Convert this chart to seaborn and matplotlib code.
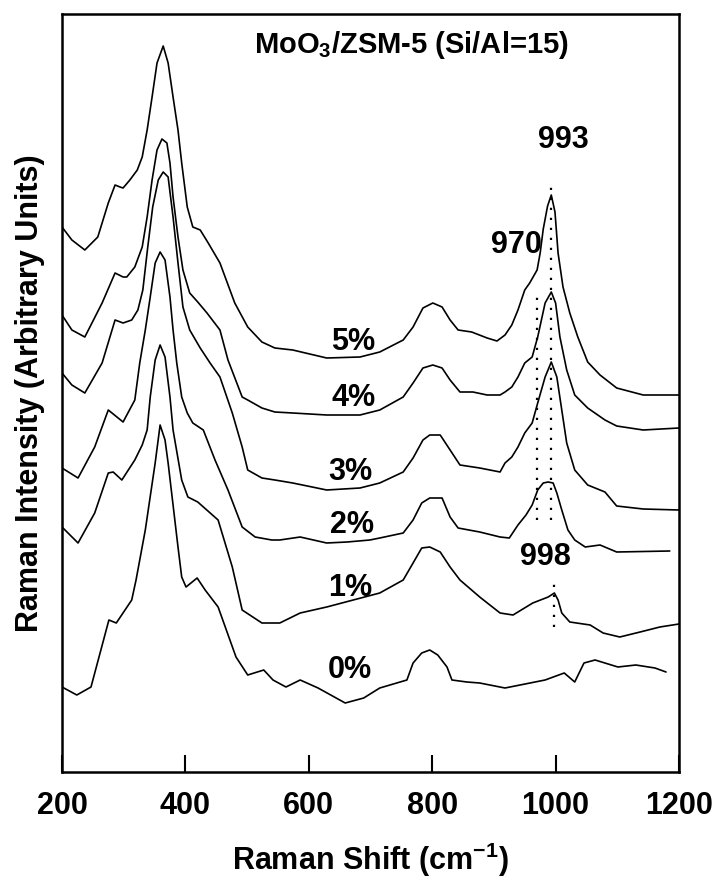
import matplotlib
matplotlib.use("Agg")
import matplotlib.pyplot as plt
import seaborn as sns
import pandas as pd

# Raman shift (cm^-1) and stacked intensities (arbitrary units, offsets included)
shift_5 = [200, 216, 237, 258, 275, 286, 294, 299, 310, 322, 330, 338, 346, 354, 364, 372, 380, 388,
           394, 403, 412, 424, 437, 456, 480, 501, 524, 545, 574, 629, 683, 715, 753, 769, 785, 801,
           816, 829, 842, 864, 889, 905, 918, 929, 939, 950, 958, 970, 975, 980, 987, 993, 999,
           1004, 1012, 1023, 1036, 1052, 1072, 1099, 1142, 1200]
int_5 = [545, 532, 522, 535, 569, 587, 585, 584, 592, 602, 615, 642, 675, 709, 726, 709, 675, 642,
         609, 565, 545, 542, 529, 509, 469, 445, 430, 424, 422, 414, 415, 420, 432, 445, 464, 469,
         465, 452, 442, 440, 434, 431, 437, 447, 462, 482, 489, 502, 519, 543, 566, 577, 560,
         519, 485, 459, 435, 410, 397, 384, 377, 377]

shift_4 = [200, 216, 237, 265, 286, 299, 305, 318, 330, 338, 346, 354, 362, 370, 375, 380, 388, 396,
           407, 420, 435, 456, 469, 492, 501, 524, 545, 574, 629, 683, 715, 753, 769, 785, 801, 816,
           829, 845, 866, 889, 910, 918, 929, 939, 950, 962, 971, 983, 993, 1000, 1007, 1018,
           1031, 1052, 1080, 1099, 1142, 1200]
int_4 = [457, 442, 435, 469, 499, 495, 495, 505, 525, 555, 592, 622, 633, 629, 609, 575, 535, 502,
         479, 470, 459, 442, 412, 375, 372, 364, 360, 359, 357, 357, 362, 375, 389, 404, 407, 404,
         392, 380, 380, 377, 377, 380, 385, 395, 409, 415, 435, 469, 480, 469, 435, 402,
         377, 364, 352, 346, 342, 344]

shift_3 = [200, 216, 237, 265, 286, 299, 313, 323, 331, 339, 347, 356, 364, 372, 380, 388, 396, 407,
           424, 440, 456, 476, 492, 501, 524, 545, 574, 629, 683, 715, 753, 769, 785, 796, 813, 829,
           845, 877, 910, 918, 929, 939, 950, 962, 971, 983, 993, 1002, 1010, 1018, 1031, 1052,
           1080, 1099, 1142, 1200]
int_3 = [399, 387, 379, 409, 452, 449, 452, 462, 482, 525, 565, 592, 600, 595, 555, 509, 465, 442,
         424, 409, 395, 359, 325, 302, 294, 292, 289, 282, 284, 289, 300, 314, 332, 337, 337, 322,
         307, 304, 300, 309, 315, 325, 339, 349, 369, 395, 410, 395, 362, 329, 302, 287,
         280, 266, 263, 262]

shift_2 = [200, 226, 253, 275, 299, 318, 326, 335, 343, 351, 359, 367, 375, 380, 386, 394, 403, 412,
           429, 448, 469, 492, 513, 540, 553, 586, 629, 662, 699, 715, 753, 769, 783, 796, 816, 829,
           842, 877, 910, 925, 939, 952, 962, 971, 980, 988, 996, 1002, 1010, 1020, 1031, 1048,
           1072, 1099, 1185]
int_2 = [304, 294, 325, 362, 350, 372, 409, 442, 475, 509, 520, 512, 475, 442, 409, 375, 359, 349,
         342, 312, 282, 245, 235, 232, 232, 235, 229, 230, 232, 234, 239, 252, 269, 274, 274, 255,
         244, 240, 235, 234, 247, 257, 267, 282, 289, 290, 289, 279, 262, 242, 232, 225,
         227, 220, 221]

shift_1 = [200, 226, 253, 275, 283, 297, 318, 330, 338, 343, 351, 359, 367, 375, 380, 394, 404, 420,
           453, 476, 492, 524, 553, 586, 629, 672, 715, 753, 769, 783, 796, 813, 829, 845, 877, 910,
           931, 963, 988, 998, 1004, 1010, 1023, 1056, 1077, 1104, 1137, 1169, 1200]
int_1 = [245, 229, 259, 299, 300, 292, 312, 327, 342, 375, 412, 427, 415, 375, 342, 292, 275, 270,
         252, 205, 162, 149, 149, 159, 165, 172, 179, 192, 209, 224, 225, 220, 205, 192, 175, 159,
         157, 169, 175, 179, 172, 159, 150, 147, 139, 135, 140, 145, 148]

shift_0 = [200, 224, 247, 276, 288, 313, 320, 335, 351, 359, 367, 372, 388, 394, 401, 419, 432, 453,
           482, 501, 527, 542, 563, 586, 615, 659, 689, 715, 759, 769, 783, 796, 809, 824, 832, 856,
           877, 918, 983, 1014, 1031, 1046, 1064, 1101, 1130, 1161, 1179]
int_0 = [85, 77, 85, 152, 149, 172, 192, 242, 309, 347, 332, 309, 225, 195, 185, 194, 182, 165,
         115, 97, 102, 92, 85, 92, 84, 69, 74, 84, 92, 109, 119, 122, 117, 105, 92, 90,
         89, 84, 92, 99, 90, 109, 112, 105, 107, 104, 100]

loadings = ["5%", "4%", "3%", "2%", "1%", "0%"]
shifts = [shift_5, shift_4, shift_3, shift_2, shift_1, shift_0]
intensities = [int_5, int_4, int_3, int_2, int_1, int_0]

# label anchors (shift, intensity) for each loading
label_x = [672, 672, 667, 670, 667, 667]
label_y = [430, 374, 300, 247, 184, 102]

# band markers: position, lower and upper intensity of the dotted guide
band_pos = [993, 970, 998]
band_lo = [252, 252, 145]
band_hi = [590, 482, 189]
band_text = ["993", "970", "998"]
band_text_xy = [(1012, 632), (936, 527), (983, 215)]

frames = []
for name, xs, ys in zip(loadings, shifts, intensities):
    frames.append(pd.DataFrame({"shift": xs, "intensity": ys, "loading": name}))
df = pd.concat(frames, ignore_index=True)

sns.set_style("white")
plt.rcParams["font.family"] = ["Liberation Sans", "DejaVu Sans"]
plt.rcParams["font.weight"] = "bold"
plt.rcParams["text.color"] = "black"
plt.rcParams["axes.labelcolor"] = "black"
plt.rcParams["xtick.color"] = "black"
plt.rcParams["mathtext.fontset"] = "custom"
plt.rcParams["mathtext.rm"] = "Liberation Sans:bold"
plt.rcParams["mathtext.default"] = "rm"

fig = plt.figure(figsize=(7.13, 8.8), dpi=100)
ax = fig.add_axes([62 / 713, 1 - 772 / 880, 617 / 713, 758 / 880])

sns.lineplot(data=df, x="shift", y="intensity", units="loading", estimator=None,
             sort=False, color="black", linewidth=1.2, ax=ax, legend=False)

for name, lx, ly in zip(loadings, label_x, label_y):
    ax.text(lx, ly, name, ha="center", va="center", fontsize=22, fontweight="bold")

for pos, lo, hi in zip(band_pos, band_lo, band_hi):
    ax.plot([pos, pos], [lo, hi], color="black", linewidth=1.6, linestyle=(0, (1, 3.5)))
for txt, (tx, ty) in zip(band_text, band_text_xy):
    ax.text(tx, ty, txt, ha="center", va="center", fontsize=22, fontweight="bold")

ax.text(766, 727, r"MoO$_3$/ZSM-5 (Si/Al=15)", ha="center", va="center",
        fontsize=21, fontweight="bold")

ax.set_xlim(200, 1200)
ax.set_ylim(0, 758)
ax.set_xticks([200, 400, 600, 800, 1000, 1200])
ax.set_yticks([])
ax.tick_params(axis="x", direction="in", length=12, width=1.5, pad=14,
               labelsize=22, bottom=True, colors="black")
for lab in ax.get_xticklabels():
    lab.set_fontweight("bold")
for sp in ax.spines.values():
    sp.set_linewidth(1.8)
    sp.set_color("black")

ax.set_xlabel(r"Raman Shift (cm$^{-1}$)", fontsize=22, fontweight="bold", labelpad=14)
ax.set_ylabel("Raman Intensity (Arbitrary Units)", fontsize=22, fontweight="bold", labelpad=12)

fig.savefig("out.png", dpi=100)
